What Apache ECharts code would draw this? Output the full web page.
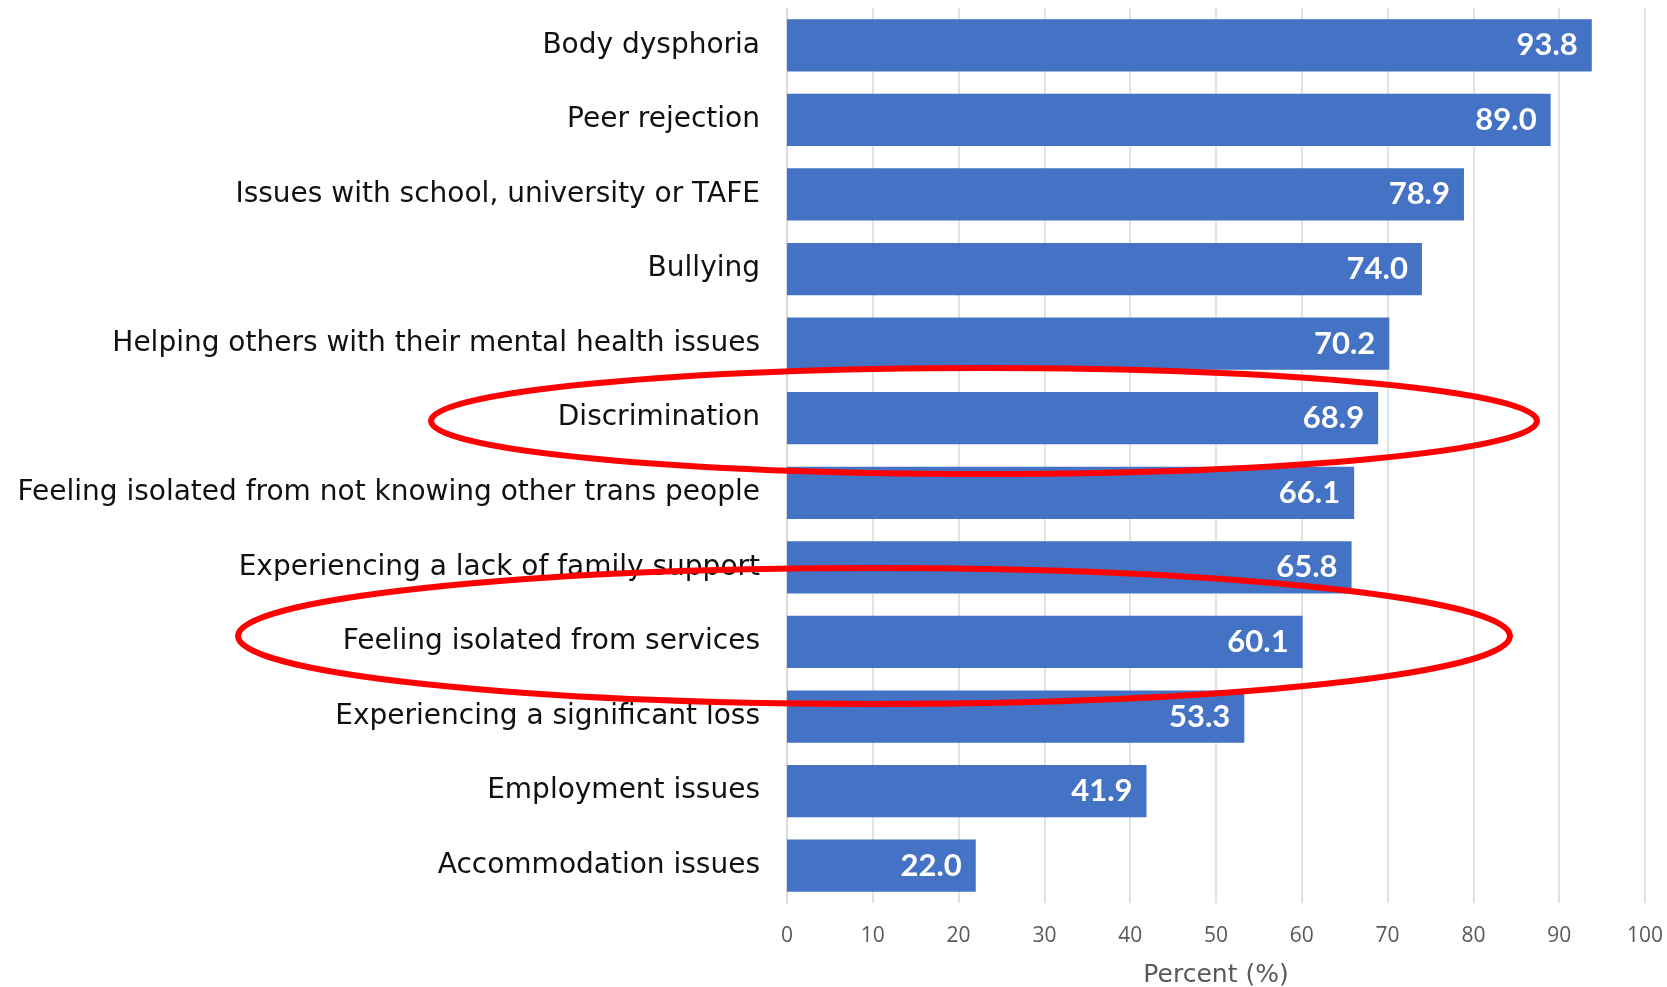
<!DOCTYPE html>
<html>
<head>
<meta charset="utf-8">
<script src="https://cdn.jsdelivr.net/npm/echarts@6/dist/echarts.min.js"></script>
<style>
html,body{margin:0;padding:0;background:#fff;}
#chart{width:1667px;height:987px;}
</style>
</head>
<body>
<div id="chart"></div>
<script>
const categories = [
  "Body dysphoria",
  "Peer rejection",
  "Issues with school, university or TAFE",
  "Bullying",
  "Helping others with their mental health issues",
  "Discrimination",
  "Feeling isolated from not knowing other trans people",
  "Experiencing a lack of family support",
  "Feeling isolated from services",
  "Experiencing a significant loss",
  "Employment issues",
  "Accommodation issues"
];
const values = [93.8, 89.0, 78.9, 74.0, 70.2, 68.9, 66.1, 65.8, 60.1, 53.3, 41.9, 22.0];
const axisTitle = "Percent (%)";

const chart = echarts.init(document.getElementById('chart'), null, {renderer: 'canvas'});
chart.setOption({
  animation: false,
  backgroundColor: '#ffffff',
  grid: {left: 787, right: 22, top: 8, bottom: 84, containLabel: false, outerBoundsMode: 'none'},
  xAxis: {
    type: 'value', min: 0, max: 100, interval: 10,
    axisLine: {show: false}, axisTick: {show: false},
    splitLine: {show: true, lineStyle: {color: '#d9d9d9', width: 1.5}},
    axisLabel: {color: '#595959', fontSize: 21, fontFamily: 'Open Sans', margin: 23},
    name: axisTitle, nameLocation: 'middle', nameGap: 60,
    nameTextStyle: {color: '#595959', fontSize: 25, fontFamily: 'DejaVu Sans'}
  },
  yAxis: {
    type: 'category', data: categories, inverse: true,
    axisLine: {show: true, lineStyle: {color: '#d9d9d9', width: 1.5}},
    axisTick: {show: false},
    axisLabel: {color: '#111', fontSize: 28, fontFamily: 'DejaVu Sans', margin: 27, padding: [7, 0, 0, 0]}
  },
  series: [{
    type: 'bar', data: values, barCategoryGap: '30%',
    itemStyle: {color: '#4472C4'},
    label: {
      show: true, position: 'insideRight', distance: 14,
      color: '#fff', fontWeight: 'bold', fontSize: 31, fontFamily: 'Lato',
      padding: [7, 0, 0, 0],
      formatter: p => p.value.toFixed(1)
    }
  }],
  graphic: [
    {type: 'ellipse', z: 100, silent: true,
     shape: {cx: 984, cy: 421, rx: 553, ry: 53},
     style: {fill: 'none', stroke: '#ff0000', lineWidth: 6}},
    {type: 'ellipse', z: 100, silent: true,
     shape: {cx: 874, cy: 636, rx: 636, ry: 68},
     style: {fill: 'none', stroke: '#ff0000', lineWidth: 6}}
  ]
});
</script>
</body>
</html>
